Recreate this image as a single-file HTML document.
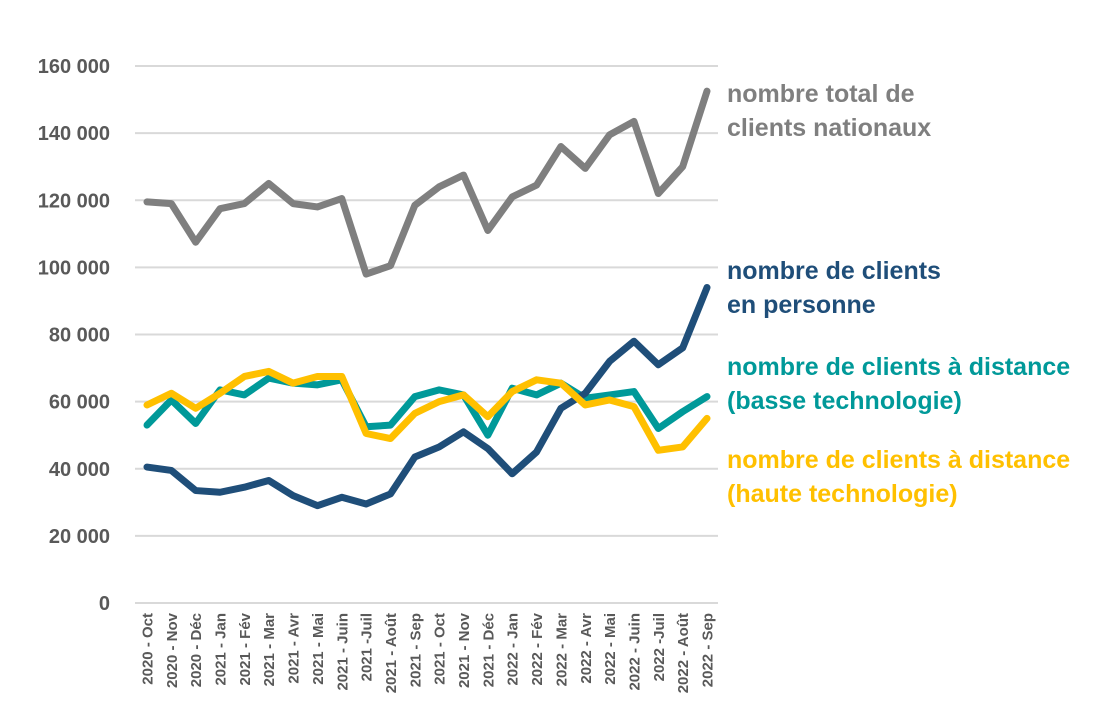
<!DOCTYPE html>
<html><head><meta charset="utf-8"><style>
body{margin:0;background:#fff}
svg text{font-family:"Liberation Sans",sans-serif;font-weight:bold}
</style></head><body>
<svg id="chart" width="1098" height="723" viewBox="0 0 1098 723" xmlns="http://www.w3.org/2000/svg">
<g id="grid"></g>
<g id="yaxis"></g>
<g id="xaxis"></g>
<g id="series"></g>
<g font-size="25">
<text x="727" y="102" fill="#7f7f7f">nombre total de</text>
<text x="727" y="136" fill="#7f7f7f">clients nationaux</text>
<text x="727" y="279" fill="#1f4e79">nombre de clients</text>
<text x="727" y="313" fill="#1f4e79">en personne</text>
<text x="727" y="375" fill="#009999">nombre de clients à distance</text>
<text x="727" y="409" fill="#009999">(basse technologie)</text>
<text x="727" y="468" fill="#ffc000">nombre de clients à distance</text>
<text x="727" y="502" fill="#ffc000">(haute technologie)</text>
</g>
</svg>
<script>
const categories=["2020 - Oct","2020 - Nov","2020 - Déc","2021 - Jan","2021 - Fév","2021 - Mar","2021 - Avr","2021 - Mai","2021 - Juin","2021 -Juil","2021 - Août","2021 - Sep","2021 - Oct","2021 - Nov","2021 - Déc","2022 - Jan","2022 - Fév","2022 - Mar","2022 - Avr","2022 - Mai","2022 - Juin","2022 -Juil","2022 - Août","2022 - Sep"];
const totalClients=[119500,119000,107500,117500,119000,125000,119000,118000,120500,98000,100500,118500,124000,127500,111000,121000,124500,136000,129500,139500,143500,122000,130000,152500];
const inPerson=[40500,39500,33500,33000,34500,36500,32000,29000,31500,29500,32500,43500,46500,51000,46000,38500,45000,58000,62500,72000,78000,71000,76000,94000];
const lowTech=[53000,60500,53500,63500,62000,67000,65500,65000,66500,52500,53000,61500,63500,62000,50000,64000,62000,65500,61000,62000,63000,52000,57000,61500];
const highTech=[59000,62500,58000,62500,67500,69000,65500,67500,67500,50500,49000,56500,60000,62000,55500,63000,66500,65500,59000,60500,58500,45500,46500,55000];
const yTicks=[0,20000,40000,60000,80000,100000,120000,140000,160000];
const yTickLabels=["0","20 000","40 000","60 000","80 000","100 000","120 000","140 000","160 000"];
const NS="http://www.w3.org/2000/svg";
const x0=147,x1=707,yBase=603,yTop=66,yMax=160000;
const xs=i=>x0+i*(x1-x0)/(categories.length-1);
const ys=v=>yBase-v/yMax*(yBase-yTop);
function mk(t,a){const e=document.createElementNS(NS,t);for(const k in a)e.setAttribute(k,a[k]);return e;}
const grid=document.getElementById('grid'),ya=document.getElementById('yaxis'),xa=document.getElementById('xaxis'),sg=document.getElementById('series');
yTicks.forEach((v,i)=>{
 const l=mk('line',{x1:135,x2:718,y1:ys(v),y2:ys(v),stroke:'#d9d9d9','stroke-width':2});
 
 
 grid.appendChild(l);
 const t=mk('text',{x:110,y:ys(v)+7,'text-anchor':'end','font-size':20,fill:'#595959'});
 
 
 t.textContent=yTickLabels[i];ya.appendChild(t);
});
categories.forEach((c,i)=>{
 const t=mk('text',{transform:`translate(${xs(i)+5.5},613) rotate(-90)`,'text-anchor':'end','font-size':15,fill:'#595959'});
 
 
 t.textContent=c;xa.appendChild(t);
});
[[totalClients,'#7f7f7f','line-total'],[lowTech,'#009999','line-low-tech'],[inPerson,'#1f4e79','line-in-person'],[highTech,'#ffc000','line-high-tech']].forEach(([d,c,n])=>{
 const p=mk('polyline',{points:d.map((v,i)=>xs(i)+','+ys(v)).join(' '),fill:'none',stroke:c,'stroke-width':7,'stroke-linejoin':'round','stroke-linecap':'round'});
 
 
 sg.appendChild(p);
});
</script>
</body></html>
